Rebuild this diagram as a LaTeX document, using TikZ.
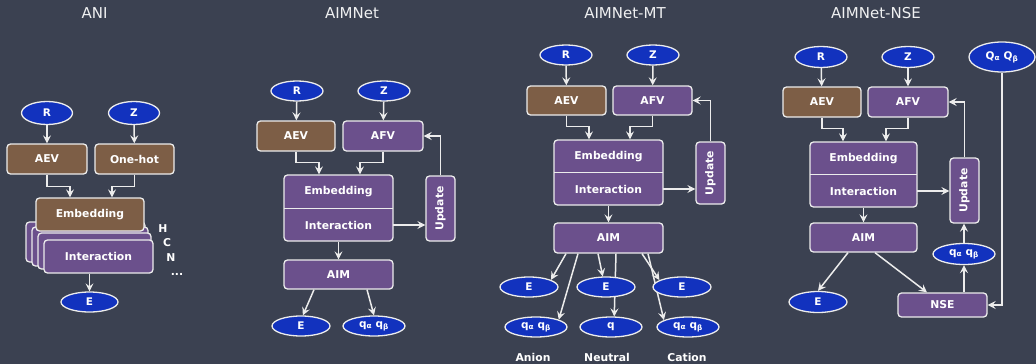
\documentclass[tikz,border=0pt]{standalone}
\usepackage{fontspec}
\setmainfont{DejaVu Sans}
\usetikzlibrary{shapes.geometric,arrows.meta,calc}
\definecolor{bgc}{RGB}{59,65,81}
\definecolor{brn}{RGB}{125,94,70}
\definecolor{prp}{RGB}{107,80,140}
\definecolor{blu}{RGB}{18,50,190}
\definecolor{lin}{RGB}{236,236,236}
\pgfdeclarelayer{bglayer}
\pgfdeclarelayer{behind}
\pgfsetlayers{bglayer,behind,main}
\begin{document}
\begin{tikzpicture}[x=1pt,y=-1pt,
 box/.style={draw=lin, line width=1.3pt, rounded corners=3.5pt, text=white, font=\fontsize{10.8}{12}\selectfont\bfseries, inner sep=0pt},
 bbox/.style={box, fill=brn},
 pbox/.style={box, fill=prp},
 txt/.style={text=white, font=\fontsize{10.8}{12}\selectfont\bfseries, inner sep=0pt},
 ell/.style={ellipse, draw=lin, line width=1.3pt, fill=blu, text=white, font=\fontsize{10.5}{12}\selectfont\bfseries, inner sep=0pt, minimum width=58pt, minimum height=20pt},
 arr/.style={draw=lin, line width=1.5pt, -{Stealth[length=8pt,width=8pt,inset=3pt]}},
 ttl/.style={text=white!92!bgc, font=\fontsize{15}{17}\selectfont, inner sep=0pt},
 updbox/.style={pbox, minimum height=29pt, rotate=90}
]
\begin{pgfonlayer}{bglayer}
\fill[bgc] (0,0) rectangle (1036,364);
\end{pgfonlayer}
\useasboundingbox (0,0) rectangle (1036,364);

% titles
\node[ttl] (t1) at (94.5,13) {ANI};
\node[ttl] (t2) at (352,13) {AIMNet};
\node[ttl] (t3) at (625,13) {AIMNet-MT};
\node[ttl] (t4) at (876,13) {AIMNet-NSE};

% ================= ANI =================
\node[ell, minimum width=51pt, minimum height=23pt] (r1) at (47,113) {R};
\node[ell, minimum width=51pt, minimum height=23pt] (z1) at (134,113) {Z};
\node[bbox, minimum width=80pt, minimum height=30pt] (aev1) at (47,159) {AEV};
\node[bbox, minimum width=79pt, minimum height=30pt] (oh1) at (134.5,159) {One-hot};
\node[pbox, minimum width=119pt, minimum height=40pt] (l3) at (85.5,242) {};
\node[pbox, minimum width=116pt, minimum height=39pt] (l2) at (90,246.5) {};
\node[pbox, minimum width=113pt, minimum height=36pt] (l1) at (94.5,251) {};
\node[pbox, minimum width=109pt, minimum height=33pt] (int1) at (98.5,256.5) {Interaction};
\node[bbox, minimum width=108pt, minimum height=33pt] (emb1) at (90,214.5) {Embedding};
\node[ell, minimum width=57pt] (e1) at (89.5,302) {E};
\node[txt] (h1) at (163,229) {H};
\node[txt] (c1) at (167,243) {C};
\node[txt] (n1) at (171,258) {N};
\node[txt] (d1) at (177,274) {...};
\draw[arr] (r1) -- (aev1);
\draw[arr] (z1) -- (oh1);
\draw[arr] (aev1.south) |- ([xshift=-20pt,yshift=11pt]emb1.north) -- ([xshift=-20pt]emb1.north);
\draw[arr] (oh1.south) |- ([xshift=22pt,yshift=11pt]emb1.north) -- ([xshift=22pt]emb1.north);
\draw[arr] (e1.north |- int1.south) -- (e1.north);

% ================= AIMNet =================
\node[ell, minimum width=52pt] (r2) at (297,91) {R};
\node[ell, minimum width=52pt] (z2) at (384,91) {Z};
\node[bbox, minimum width=78pt, minimum height=30pt] (aev2) at (296,136) {AEV};
\node[pbox, minimum width=80pt, minimum height=30pt] (afv2) at (383,136) {AFV};
\node[pbox, minimum width=109pt, minimum height=66pt] (ei2) at (338.5,208) {};
\node[txt, minimum width=109pt, minimum height=34pt] (emb2) at (338.5,192) {Embedding};
\node[txt, minimum width=109pt, minimum height=32pt] (int2) at (338.5,225) {Interaction};
\draw[lin, line width=1.3pt] (int2.north west) -- (int2.north east);
\node[updbox, minimum width=65pt] (upd2) at (440.5,208.5) {Update};
\node[pbox, minimum width=109pt, minimum height=29pt] (aim2) at (338.5,274.5) {AIM};
\node[ell, minimum width=58pt] (e2) at (301,326) {E};
\node[ell, minimum width=62pt] (q2) at (374,326) {q\textsubscript{α} q\textsubscript{β}};
\draw[arr] (r2) -- (aev2);
\draw[arr] (z2) -- (afv2);
\draw[arr] (aev2.south) |- ([xshift=-19.5pt,yshift=12pt]ei2.north) -- ([xshift=-19.5pt]ei2.north);
\draw[arr] (afv2.south) |- ([xshift=21.5pt,yshift=12pt]ei2.north) -- ([xshift=21.5pt]ei2.north);
\draw[arr] (int2.east) -- (int2.east -| upd2.north);
\draw[arr] (upd2.east) |- (afv2.east);
\draw[arr] (ei2.south) -- (aim2.north);
\draw[arr] ([xshift=-24.5pt]aim2.south) -- (e2.80);
\draw[arr] ([xshift=28.5pt]aim2.south) -- (q2.north);

% ================= AIMNet-MT =================
\node[ell, minimum width=52pt] (r3) at (566,55) {R};
\node[ell, minimum width=52pt] (z3) at (653,55) {Z};
\node[bbox, minimum width=79pt, minimum height=29pt] (aev3) at (566.5,100.5) {AEV};
\node[pbox, minimum width=79pt, minimum height=29pt] (afv3) at (652.5,100.5) {AFV};
\node[pbox, minimum width=109pt, minimum height=65pt] (ei3) at (608.5,172.5) {};
\node[txt, minimum width=109pt, minimum height=33pt] (emb3) at (608.5,156.5) {Embedding};
\node[txt, minimum width=109pt, minimum height=32pt] (int3) at (608.5,189) {Interaction};
\draw[lin, line width=1.3pt] (int3.north west) -- (int3.north east);
\node[updbox, minimum width=62pt] (upd3) at (710.5,173) {Update};
\node[pbox, minimum width=109pt, minimum height=30pt] (aim3) at (608.5,238) {AIM};
\node[ell] (el3) at (529,287) {E};
\node[ell] (em3) at (606,287) {E};
\node[ell] (er3) at (682,287) {E};
\node[ell, minimum width=62pt] (ql3) at (536,327) {q\textsubscript{α} q\textsubscript{β}};
\node[ell, minimum width=62pt] (qm3) at (611,327) {q};
\node[ell, minimum width=62pt] (qr3) at (688,327) {q\textsubscript{α} q\textsubscript{β}};
\node[txt] (an3) at (533,357) {Anion};
\node[txt] (ne3) at (607,357) {Neutral};
\node[txt] (ca3) at (687,357) {Cation};
\draw[arr] (r3) -- (aev3);
\draw[arr] (z3) -- (afv3);
\draw[arr] (aev3.south) |- ([xshift=-19.5pt,yshift=13pt]ei3.north) -- ([xshift=-19.5pt]ei3.north);
\draw[arr] (afv3.south) |- ([xshift=21.5pt,yshift=13pt]ei3.north) -- ([xshift=21.5pt]ei3.north);
\draw[arr] (int3.east) -- (int3.east -| upd3.north);
\draw[arr] (upd3.east) |- (afv3.east);
\draw[arr] (ei3.south) -- (aim3.north);
\draw[arr] ([xshift=-42.5pt]aim3.south) -- (el3.18);
\draw[arr] ([xshift=-30.5pt]aim3.south) -- (ql3.18);
\draw[arr] ([xshift=-10.5pt]aim3.south) -- (em3.107);
\draw[arr] ([xshift=33.5pt]aim3.south) -- (er3.163);
\begin{pgfonlayer}{behind}
\draw[arr] ([xshift=7.5pt]aim3.south) -- (qm3.73);
\draw[arr] ([xshift=39.5pt]aim3.south) -- (qr3.164);
\end{pgfonlayer}

% ================= AIMNet-NSE =================
\node[ell, minimum width=52pt, minimum height=21pt] (r4) at (821,57) {R};
\node[ell, minimum width=52pt, minimum height=21pt] (z4) at (908,57) {Z};
\node[ell, minimum width=66pt, minimum height=30pt] (qq4) at (1002,57) {Q\textsubscript{α} Q\textsubscript{β}};
\node[bbox, minimum width=78pt, minimum height=30pt] (aev4) at (822,102) {AEV};
\node[pbox, minimum width=80pt, minimum height=30pt] (afv4) at (908,102) {AFV};
\node[pbox, minimum width=107pt, minimum height=65pt] (ei4) at (863.5,174.5) {};
\node[txt, minimum width=107pt, minimum height=33pt] (emb4) at (863.5,158.5) {Embedding};
\node[txt, minimum width=107pt, minimum height=32pt] (int4) at (863.5,191) {Interaction};
\draw[lin, line width=1.3pt] (int4.north west) -- (int4.north east);
\node[updbox, minimum width=65pt] (upd4) at (964.5,190.5) {Update};
\node[pbox, minimum width=107pt, minimum height=29pt] (aim4) at (863.5,237.5) {AIM};
\node[ell, minimum width=58pt, minimum height=21pt] (e4) at (818,302) {E};
\node[ell, minimum width=62pt, minimum height=21pt] (q4) at (964,254) {q\textsubscript{α} q\textsubscript{β}};
\node[pbox, minimum width=89pt, minimum height=24pt] (nse4) at (942.5,305) {NSE};
\draw[arr] (r4) -- (aev4);
\draw[arr] (z4) -- (afv4);
\draw[arr] (aev4.south) |- ([xshift=-20.5pt,yshift=13pt]ei4.north) -- ([xshift=-20.5pt]ei4.north);
\draw[arr] (afv4.south) |- ([xshift=22.5pt,yshift=13pt]ei4.north) -- ([xshift=22.5pt]ei4.north);
\draw[arr] (int4.east) -- (int4.east -| upd4.north);
\draw[arr] (upd4.east) |- (afv4.east);
\draw[arr] (ei4.south) -- (aim4.north);
\draw[arr] ([xshift=-15.5pt]aim4.south) -- (e4.north);
\draw[arr] ([xshift=11.5pt]aim4.south) -- ([xshift=-15.5pt]nse4.north);
\draw[arr] (nse4.north -| q4.south) -- (q4.south);
\draw[arr] (q4.north) -- (q4.north |- upd4.west);
\draw[arr] (qq4.south) |- (nse4.east);
\end{tikzpicture}
\end{document}
